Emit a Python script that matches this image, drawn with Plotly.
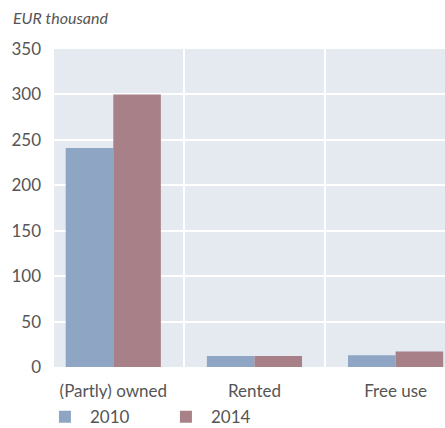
import plotly.graph_objects as go

categories = ["(Partly) owned", "Rented", "Free use"]
series_names = ["2010", "2014"]
values_2010 = [241, 12, 13]
values_2014 = [300, 12, 17]
y_ticks = [0, 50, 100, 150, 200, 250, 300, 350]

colors = ["#8fa5c4", "#a88087"]
font_family = "Lato, 'Open Sans', sans-serif"
text_color = "#555555"

fig = go.Figure()
for name, vals, col in zip(series_names, [values_2010, values_2014], colors):
    fig.add_trace(go.Bar(x=categories, y=vals, name=name, marker_color=col,
                         marker_line_width=0))

fig.update_layout(
    width=445, height=428,
    margin=dict(l=54, r=0, t=49, b=61, autoexpand=False),
    paper_bgcolor="white",
    plot_bgcolor="#e5e9f0",
    barmode="group",
    bargap=0.326,
    bargroupgap=0,
    font=dict(family=font_family, size=17, color=text_color),
    showlegend=True,
    legend=dict(orientation="h", x=-0.036, xanchor="left", y=-0.158, yanchor="middle",
                font=dict(size=17, color=text_color), itemwidth=40,
                entrywidth=66, tracegroupgap=0),
    annotations=[dict(text="<i>EUR thousand</i>", xref="paper", yref="paper",
                      x=-0.11, y=1.0975, xanchor="left", yanchor="middle",
                      showarrow=False, font=dict(size=16, color=text_color))],
)
fig.update_xaxes(type="category", range=[-0.42, 2.35], tickson="boundaries",
                 showgrid=True, gridcolor="white", gridwidth=2, ticks="",
                 showline=False, zeroline=False, ticklabelstandoff=12,
                 automargin=False)
fig.update_yaxes(range=[0, 350], tickvals=y_ticks, showgrid=True,
                 gridcolor="white", gridwidth=2, zeroline=False, ticks="",
                 ticklabelstandoff=12, automargin=False)

fig.write_html("out.html", config={"displayModeBar": False},
               post_script="document.body.style.margin='0';document.body.style.overflow='hidden';")
